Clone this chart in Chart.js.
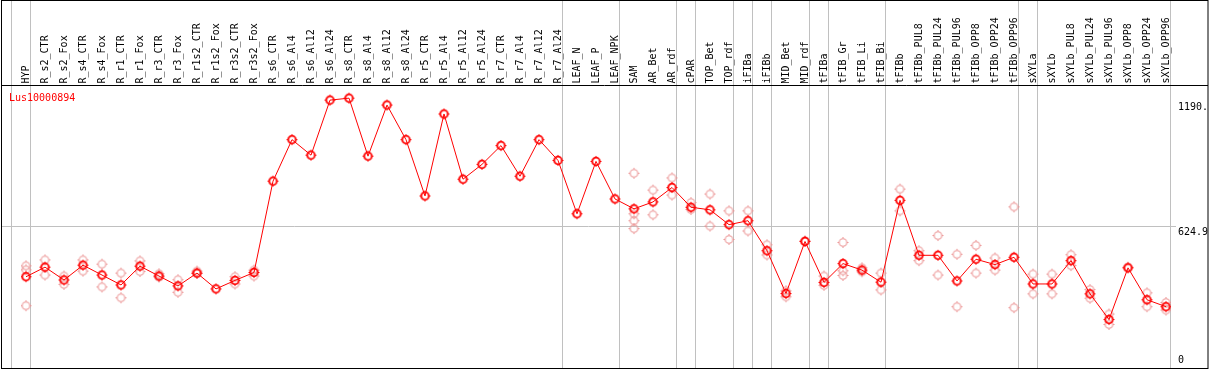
<!DOCTYPE html>
<html>
<head>
<meta charset="utf-8">
<script src="https://cdn.jsdelivr.net/npm/chart.js@4"></script>
<style>
  body { margin: 0; background: #fff; }
  canvas { display: block; }
</style>
</head>
<body>
<canvas id="expr" width="1209" height="370"></canvas>
<script>
// sample names across the top
const labels = ['HYP', 'R_s2_CTR', 'R_s2_Fox', 'R_s4_CTR', 'R_s4_Fox', 'R_r1_CTR', 'R_r1_Fox', 'R_r3_CTR', 'R_r3_Fox',
    'R_r1s2_CTR', 'R_r1s2_Fox', 'R_r3s2_CTR', 'R_r3s2_Fox', 'R_s6_CTR', 'R_s6_Al4', 'R_s6_Al12', 'R_s6_Al24',
    'R_s8_CTR', 'R_s8_Al4', 'R_s8_Al12', 'R_s8_Al24', 'R_r5_CTR', 'R_r5_Al4', 'R_r5_Al12', 'R_r5_Al24',
    'R_r7_CTR', 'R_r7_Al4', 'R_r7_Al12', 'R_r7_Al24', 'LEAF_N', 'LEAF_P', 'LEAF_NPK', 'SAM', 'AR_Bet', 'AR_rdf',
    'cPAR', 'TOP_Bet', 'TOP_rdf', 'iFIBa', 'iFIBb', 'MID_Bet', 'MID_rdf', 'tFIBa', 'tFIB_Gr', 'tFIB_Li', 'tFIB_Bi',
    'tFIBb', 'tFIBb_PUL8', 'tFIBb_PUL24', 'tFIBb_PUL96', 'tFIBb_OPP8', 'tFIBb_OPP24', 'tFIBb_OPP96',
    'sXYLa', 'sXYLb', 'sXYLb_PUL8', 'sXYLb_PUL24', 'sXYLb_PUL96', 'sXYLb_OPP8', 'sXYLb_OPP24', 'sXYLb_OPP96'];

const geneName = 'Lus10000894';

// mean expression per sample
const meanValues = [398.6, 441.9, 383.9, 450.8, 406.2, 361.5, 446.3, 401.7, 357.1, 415.1, 343.7, 382.1, 417.8,
    830.2, 1017.7, 947.6, 1196.2, 1205.1, 943.1, 1173.9, 1017.7, 763.3, 1133.7, 839.1, 906.1, 990.9, 852.5,
    1017.7, 923.9, 682.9, 919.5, 749.9, 705.2, 736.5, 801.6, 712.4, 700.8, 633.8, 651.7, 516, 322.7, 557.9,
    373.1, 458, 428.5, 374, 743.6, 495.4, 495.4, 379.4, 477.6, 453.5, 486.5, 366, 366, 471.3, 321.4, 205.3,
    438.8, 294.6, 263.3];

// replicate values (null where no replicate is shown)
const rep1 = [447.7, 474.5, 401.7, 474.5, 455.3, 415.1, 470, 412, 385.2, 424, null, 398.6, 428.5,
    null, null, null, null, null, null, null, null, null, null, null, null, null, null, null, null, null, null, null,
    865.9, 790, 845, 733.4, 772.2, 696.3, 696.3, 542.8, 334.8, 560.6, 401.7, 553.5, 438.8, 415.1,
    794.5, 516, 584.7, 499.9, 540.1, 483.4, 714.2, 410.6, 410.6, 498.1, 340.6, 230.3, 441.9, 325.8, 282.5];
const rep2 = [429.8, 406.2, 364.2, 424, 352.6, 303.5, 422.2, 397.2, 328.5, 413.3, null, 366, 401.7,
    null, null, null, null, null, null, null, null, null, null, null, null, null, null, null, null, null, null, null,
    682.9, 678.4, 767.7, 702.1, 627.6, 566.9, 605.3, 496.8, 308, null, 359.8, 425.4, 420.9, 339.2,
    696.3, 471.3, 406.2, 263.3, 415.1, 428.5, 258.9, 321.4, 321.4, 449, 301.7, 183, null, 263.3, 248.2];
const rep3 = [267.8, null, null, null, null, null, null, null, null, null, null, null, null,
    null, null, null, null, null, null, null, null, null, null, null, null, null, null, null, null, null, null, null,
    651.7, null, null, null, null, null, null, null, null, null, null, 404.4, null, null,
    null, null, null, null, null, null, null, null, null, null, null, null, null, null, null];
const rep4 = [null, null, null, null, null, null, null, null, null, null, null, null, null,
    null, null, null, null, null, null, null, null, null, null, null, null, null, null, null, null, null, null, null,
    616, null, null, null, null, null, null, null, null, null, null, null, null, null,
    null, null, null, null, null, null, null, null, null, null, null, null, null, null, null];

// right-hand value labels
const yTicks = [0, 624.9, 1190];
const yTickText = ['0', '624.9', '1190.'];

// sample index after which a group separator is drawn
const groupEnds = [-1, 0, 28, 31, 34, 35, 37, 38, 39, 41, 42, 45, 52, 53, 60];

const FONT = '10px "DejaVu Sans Mono", monospace';

function makeMarker(color, lw) {
    const c = document.createElement('canvas');
    c.width = 13;
    c.height = 13;
    const g = c.getContext('2d');
    g.strokeStyle = color;
    g.fillStyle = color;
    g.lineWidth = lw;
    g.beginPath();
    g.arc(6.5, 6.5, 3.8, 0, Math.PI * 2);
    g.stroke();
    // small tick dots around the ring
    g.fillRect(6, 1, 1, 1);
    g.fillRect(6, 11, 1, 1);
    g.fillRect(1, 6, 1, 1);
    g.fillRect(11, 6, 1, 1);
    return c;
}

const mainMarker = makeMarker('#ff0000', 1.8);
const repMarker = makeMarker('rgba(235,145,145,1)', 1.1);

const framePlugin = {
    id: 'frame',
    beforeDatasetsDraw(chart) {
        const { ctx, scales: { x, y } } = chart;
        const step = x.getPixelForValue(1) - x.getPixelForValue(0);
        ctx.save();
        ctx.strokeStyle = '#c0c0c0';
        ctx.lineWidth = 1;
        groupEnds.forEach(i => {
            const px = Math.floor(x.getPixelForValue(0) + (i + 0.25) * step) + 0.5;
            ctx.beginPath();
            ctx.moveTo(px, 0);
            ctx.lineTo(px, 369);
            ctx.stroke();
        });
        const gy = Math.floor(y.getPixelForValue(624.9)) + 0.5;
        ctx.beginPath();
        ctx.moveTo(1, gy);
        ctx.lineTo(1176, gy);
        ctx.stroke();
        ctx.restore();
    },
    afterDraw(chart) {
        const { ctx, scales: { x, y } } = chart;
        ctx.save();
        ctx.font = FONT;
        ctx.fillStyle = '#000';

        // rotated sample names
        labels.forEach((lab, i) => {
            ctx.save();
            ctx.translate(x.getPixelForValue(i) + 0.5, 83.5);
            ctx.rotate(-Math.PI / 2);
            ctx.textAlign = 'left';
            ctx.textBaseline = 'middle';
            ctx.fillText(lab, 0, 0);
            ctx.restore();
        });

        // value labels on the right
        ctx.textAlign = 'left';
        ctx.textBaseline = 'alphabetic';
        yTicks.forEach((v, i) => {
            const py = y.getPixelForValue(v);
            const by = v === 0 ? py - 2.3 : py + 8.5;
            ctx.fillText(yTickText[i], 1178, by);
        });

        // gene name
        ctx.fillStyle = '#ff0000';
        ctx.fillText(geneName, 9, 101);

        // outer frame and header rule
        ctx.strokeStyle = '#000';
        ctx.lineWidth = 1;
        ctx.strokeRect(1.5, 0.5, 1206.5, 368);
        ctx.beginPath();
        ctx.moveTo(1, 85.5);
        ctx.lineTo(1208, 85.5);
        ctx.stroke();
        ctx.restore();
    }
};

function repSet(data) {
    return {
        data: data,
        showLine: false,
        pointStyle: repMarker,
        pointRadius: 4,
        pointHoverRadius: 4,
        borderColor: 'rgba(235,145,145,1)'
    };
}

new Chart(document.getElementById('expr'), {
    type: 'line',
    data: {
        labels: labels,
        datasets: [{
            data: meanValues,
            borderColor: '#ff0000',
            borderWidth: 1,
            tension: 0,
            pointStyle: mainMarker,
            pointRadius: 4,
            pointHoverRadius: 4
        }, repSet(rep1), repSet(rep2), repSet(rep3), repSet(rep4)]
    },
    options: {
        responsive: false,
        animation: false,
        events: [],
        layout: { padding: { left: 26, right: 43, top: 85, bottom: 1.7 } },
        plugins: { legend: { display: false }, tooltip: { enabled: false } },
        scales: {
            x: { display: false, offset: false },
            y: { display: false, min: 0, max: 1264.5 }
        }
    },
    plugins: [framePlugin]
});
</script>
</body>
</html>
